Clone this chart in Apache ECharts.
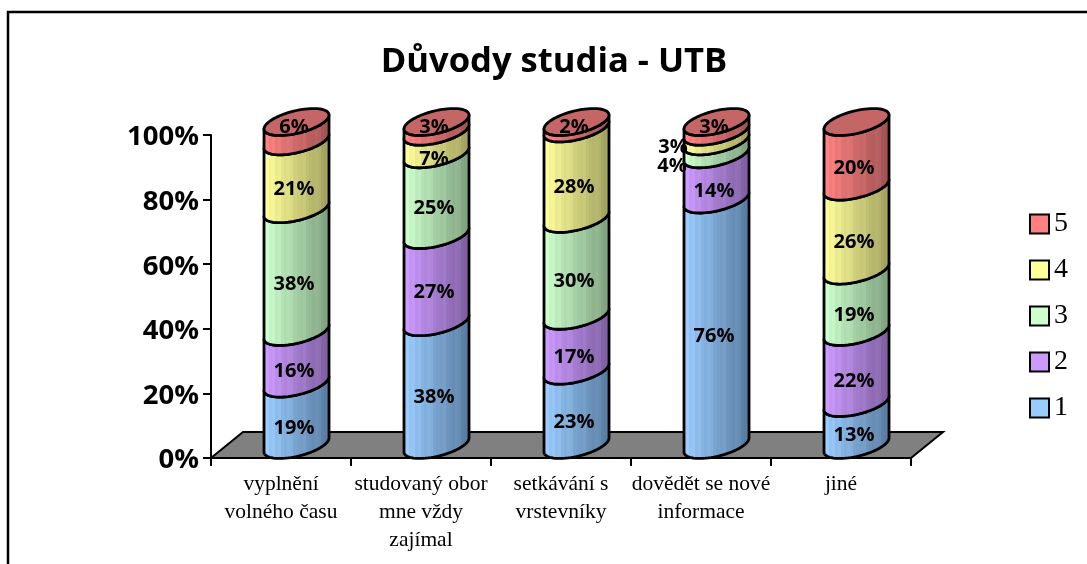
<!DOCTYPE html>
<html><head><meta charset="utf-8">
<style>html,body{margin:0;padding:0;background:#fff}#c{width:1087px;height:564px}</style>
<script src="https://cdn.jsdelivr.net/npm/echarts@6/dist/echarts.min.js"></script>
</head><body><div id="c"></div>
<script>
const categories = ['vyplnění\nvolného času','studovaný obor\nmne vždy\nzajímal','setkávání s\nvrstevníky','dovědět se nové\ninformace','jiné'];
const s1 = [19,38,23,76,13];
const s2 = [16,27,17,14,22];
const s3 = [38,25,30,4,19];
const s4 = [21,7,28,3,26];
const s5 = [6,3,2,3,20];
const seriesValues = [s1,s2,s3,s4,s5];
const seriesNames = ['1','2','3','4','5'];
const colours = [
  ['#9accff','#55789c'],
  ['#cc99ff','#7a5c9c'],
  ['#ccffcc','#7a9c7a'],
  ['#ffff99','#9c9c5c'],
  ['#ff8080','#9c5050']
];
const capColour = '#c46666';
const DX = 15.5, DY = -13, A = 32.5, K = 7, B = 11.5;
// pixel nudges for labels the original moved off-centre: [series][category] -> [dx,dy]
const labelNudge = {
  '4,0':[0,-18], '4,1':[0,-14], '4,2':[0,-12], '4,3':[0,-14],
  '3,3':[-41,-3], '2,3':[-42,4], '3,1':[0,2], '0,4':[0,-3]
};
function stripes(c1,c2){
  const a=echarts.color.parse(c1),b=echarts.color.parse(c2),st=[];
  const n=22;
  for(let i=0;i<n;i++){
    const t=(i+.5)/n;
    const w=(i%4===1||i%5===3)?7:0;
    const col=j=>Math.min(255,Math.round(a[j]+(b[j]-a[j])*t+w));
    const cs='rgb('+col(0)+','+col(1)+','+col(2)+')';
    st.push({offset:i/n,color:cs},{offset:(i+1)/n,color:cs});
  }
  return {type:'linear',x:0,y:0,x2:1,y2:0,colorStops:st};
}
function lowerArc(cx,cy,reverse){
  const pts=[],N=36;
  for(let i=0;i<=N;i++){
    const t=Math.PI*i/N;
    const c=-Math.cos(t),s=Math.sin(t);
    pts.push([cx+A*c, cy-K*c+B*s]);
  }
  return reverse?pts.reverse():pts;
}
function ellipse(cx,cy){
  const pts=[],N=72;
  for(let i=0;i<N;i++){
    const t=2*Math.PI*i/N,c=Math.cos(t),s=Math.sin(t);
    pts.push([cx+A*c, cy-K*c+B*s]);
  }
  return pts;
}
const series = seriesNames.map((name,si)=>({
  name,type:'custom',coordinateSystem:'cartesian2d',
  itemStyle:{color:colours[si][0]},
  data:categories.map((_,ci)=>{
    let base=0;for(let k=0;k<si;k++)base+=seriesValues[k][ci];
    return [ci,base,base+seriesValues[si][ci],seriesValues[si][ci]];
  }),
  encode:{x:0,y:2},
  z:3+si,
  renderItem(params,api){
    const ci=api.value(0),lo=api.coord([ci,api.value(1)]),hi=api.coord([ci,api.value(2)]);
    const v=api.value(3);
    const cx=lo[0]+DX, yb=lo[1]+DY, yt=hi[1]+DY;
    const poly=[...lowerArc(cx,yb,false),...lowerArc(cx,yt,true)];
    const children=[{type:'polygon',shape:{points:poly},
      style:{fill:stripes(colours[si][0],colours[si][1]),stroke:'#000',lineWidth:2.8,lineJoin:'round'}}];
    if(si===4){
      children.push({type:'polygon',shape:{points:ellipse(cx,yt)},
        style:{fill:capColour,stroke:'#000',lineWidth:2.8}});
    }
    const n=labelNudge[si+','+ci]||[0,0];
    const mid=api.coord([ci,api.value(1)+v/2]);
    children.push({type:'text',z2:50,style:{text:v+'%',x:lo[0]+13+n[0],y:mid[1]+1+n[1],
      align:'center',verticalAlign:'middle',fill:'#000',
      font:'bold 20px "Open Sans", sans-serif'}});
    return {type:'group',children};
  }
}));
const floorSeries={
  type:'custom',coordinateSystem:'cartesian2d',silent:true,z:2,data:[[0,0]],encode:{x:0,y:1},
  renderItem(params,api){
    const p0=api.coord([0,0]);const w=params.coordSys.width,x0=params.coordSys.x;
    const y=p0[1];
    return {type:'polygon',shape:{points:[[x0,y],[x0+w,y],[x0+w+32,y-26],[x0+32,y-26]]},
      style:{fill:'#808080',stroke:'#000',lineWidth:2}};
  }
};
const option={
  animation:false,
  backgroundColor:'#fff',
  title:{text:'Důvody studia - UTB',left:549,textAlign:'center',top:40,
    textStyle:{fontFamily:'Open Sans',fontWeight:'bold',fontSize:34.6,color:'#000'}},
  legend:{orient:'vertical',left:1029,top:210,padding:0,itemWidth:19,itemHeight:19,itemGap:18,icon:'rect',
    data:['5','4','3','2','1'],selectedMode:false,
    itemStyle:{borderColor:'#000',borderWidth:2},
    textStyle:{fontFamily:'Liberation Serif',fontSize:28,color:'#000',padding:[4,0,0,0]}},
  grid:{left:211,right:176,top:135,bottom:106,containLabel:false},
  xAxis:{type:'category',data:categories,
    axisLine:{lineStyle:{color:'#000',width:2}},
    axisTick:{show:true,alignWithLabel:false,length:8,lineStyle:{color:'#000',width:2}},
    axisLabel:{fontFamily:'Liberation Serif',fontSize:21.5,color:'#000',lineHeight:28.3,margin:12,interval:0}},
  yAxis:{type:'value',min:0,max:100,interval:20,
    splitLine:{show:false},
    axisLine:{show:true,lineStyle:{color:'#000',width:2}},
    axisTick:{show:true,length:8,lineStyle:{color:'#000',width:2}},
    axisLabel:{formatter:'{a|{value}%}',margin:12,
      rich:{a:{fontFamily:'Open Sans',fontWeight:'bold',fontSize:27.5,color:'#000',padding:[5,0,0,0]}}}},
  graphic:[{type:'polyline',silent:true,z:-1,shape:{points:[[8,570],[8,12],[1090,12]]},style:{fill:'none',stroke:'#000',lineWidth:2.5}}],
  series:[floorSeries,...series]
};
echarts.init(document.getElementById('c'),null,{renderer:'canvas'}).setOption(option);
</script></body></html>
